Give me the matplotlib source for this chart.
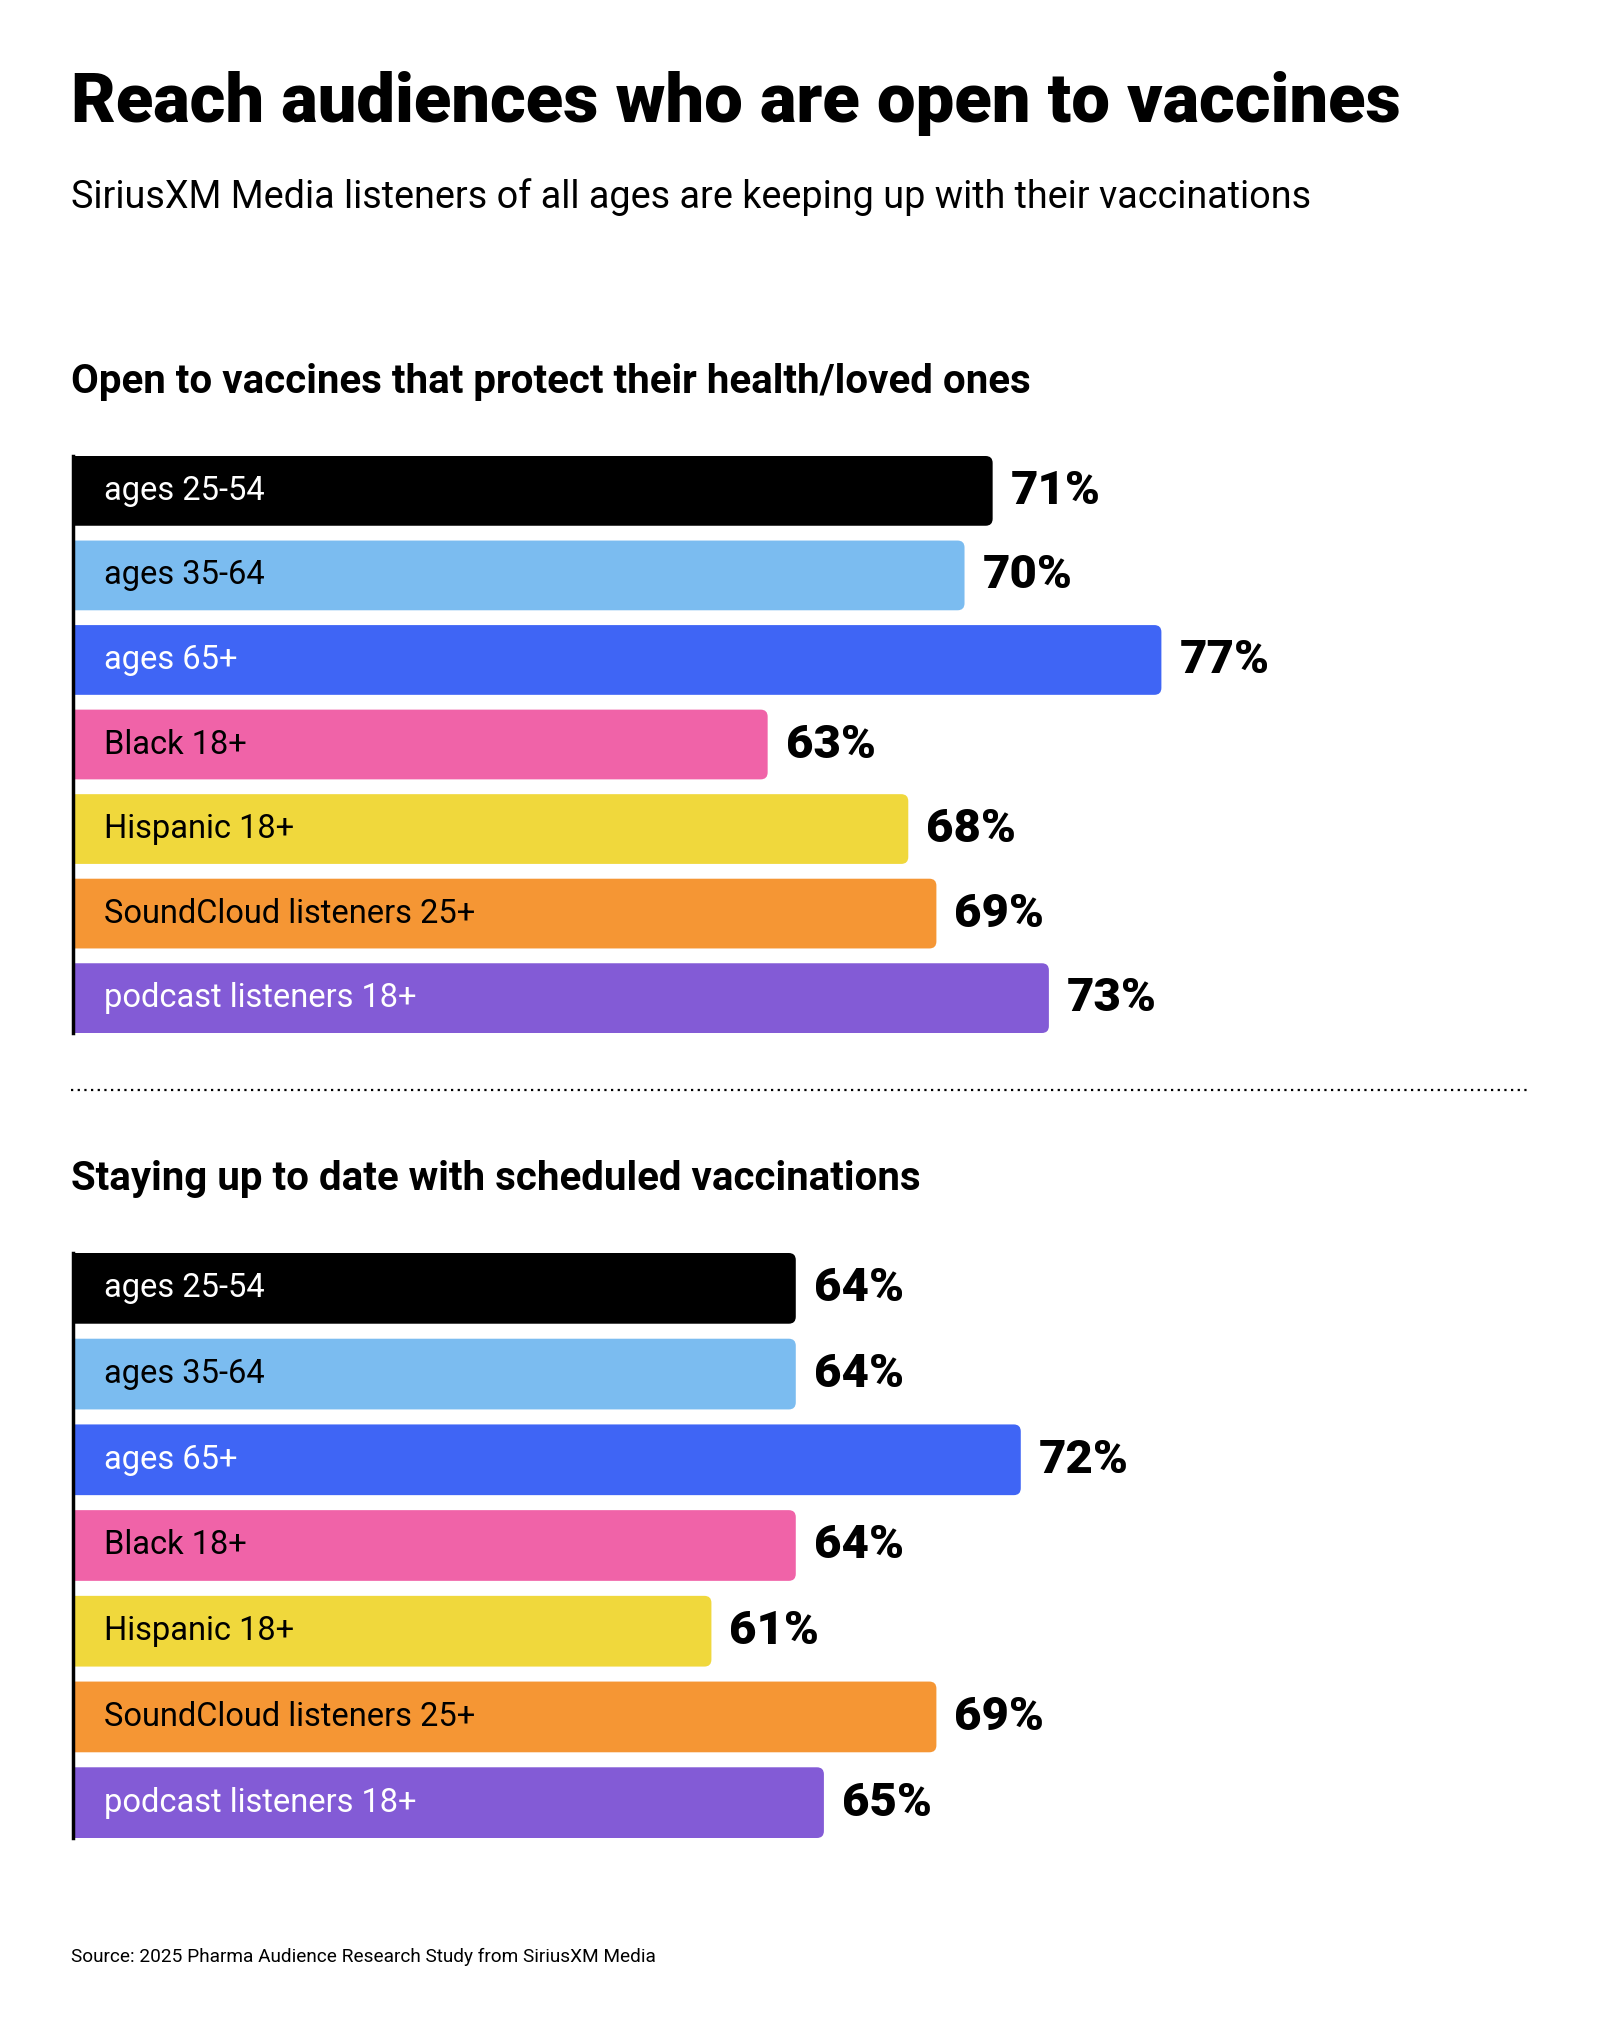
import numpy as np
import matplotlib
matplotlib.use("Agg")
import matplotlib.pyplot as plt
from matplotlib.patches import FancyBboxPatch
from matplotlib.lines import Line2D

plt.rcParams['font.family'] = ['Roboto', 'DejaVu Sans']

# data
groups = ["ages 25-54", "ages 35-64", "ages 65+", "Black 18+",
          "Hispanic 18+", "SoundCloud listeners 25+", "podcast listeners 18+"]
open_to_vaccines = [71, 70, 77, 63, 68, 69, 73]
up_to_date = [64, 64, 72, 64, 61, 69, 65]

colors = ["#000000", "#7BBCF0", "#3F65F5", "#F063A8", "#F0D83C", "#F59634", "#835BD6"]
text_colors = ["white", "black", "white", "black", "black", "black", "white"]

title = "Reach audiences who are open to vaccines"
subtitle = "SiriusXM Media listeners of all ages are keeping up with their vaccinations"
section1 = "Open to vaccines that protect their health/loved ones"
section2 = "Staying up to date with scheduled vaccinations"
source = "Source: 2025 Pharma Audience Research Study from SiriusXM Media"

W, H = 1600, 2018
fig = plt.figure(figsize=(W / 100, H / 100), dpi=100)
fig.patch.set_facecolor("white")

x0 = 71 / W
fig.text(x0, 1 - 122 / H, title, fontsize=49.5, fontweight="black", va="baseline", ha="left")
fig.text(x0, 1 - 208 / H, subtitle, fontsize=27.2, va="baseline", ha="left")
fig.text(x0, 1 - 393 / H, section1, fontsize=29, fontweight="bold", va="baseline", ha="left")
fig.text(x0, 1 - 1190 / H, section2, fontsize=29, fontweight="bold", va="baseline", ha="left")
fig.text(x0, 1 - 1962 / H, source, fontsize=13.7, va="baseline", ha="left")

# dotted divider
fig.add_artist(Line2D([71 / W, 1527 / W], [1 - 1090 / H, 1 - 1090 / H],
                      transform=fig.transFigure, color="black", lw=1.6,
                      linestyle=(0, (1, 2))))

XMIN, XMAX = 38.3, 90.0
bar_h = 0.825


def draw_section(top_px, bottom_px, values):
    ax = fig.add_axes([73 / W, 1 - bottom_px / H, (1527 - 73) / W, (bottom_px - top_px) / H])
    y = np.arange(len(groups))
    bars = ax.barh(y, values, height=bar_h, color=colors)
    ax.set_xlim(XMIN, XMAX)
    ax.set_ylim(len(groups) - 1 + bar_h / 2, -bar_h / 2)

    # rounded right corners
    px_per_x = (1527 - 73) / (XMAX - XMIN)
    px_per_y = (bottom_px - top_px) / (len(groups) - 1 + bar_h)
    r = 7
    for b, c in zip(bars, colors):
        bx, by = b.get_x(), b.get_y()
        bw, bh = b.get_width(), b.get_height()
        p = FancyBboxPatch((bx, by), bw, bh,
                           boxstyle="round,pad=0,rounding_size=%f" % (r / px_per_x),
                           mutation_aspect=px_per_x / px_per_y,
                           facecolor=c, edgecolor="none")
        ax.add_patch(p)
        b.set_visible(False)

    for i, (g, v) in enumerate(zip(groups, values)):
        ax.annotate(g, xy=(0, i), xycoords=("axes fraction", "data"),
                    xytext=(22, 0), textcoords="offset points",
                    ha="left", va="center", fontsize=23.5, color=text_colors[i])
        ax.annotate("%d%%" % v, xy=(v, i), xytext=(13, 0), textcoords="offset points",
                    ha="left", va="center", fontsize=34, fontweight="black", color="black")

    for s in ["top", "right", "bottom"]:
        ax.spines[s].set_visible(False)
    ax.spines["left"].set_linewidth(2.5)
    ax.set_xticks([])
    ax.set_yticks([])
    ax.patch.set_alpha(0)


draw_section(456, 1033, open_to_vaccines)
draw_section(1253, 1838, up_to_date)

fig.savefig("out.png", dpi=100, facecolor="white")
